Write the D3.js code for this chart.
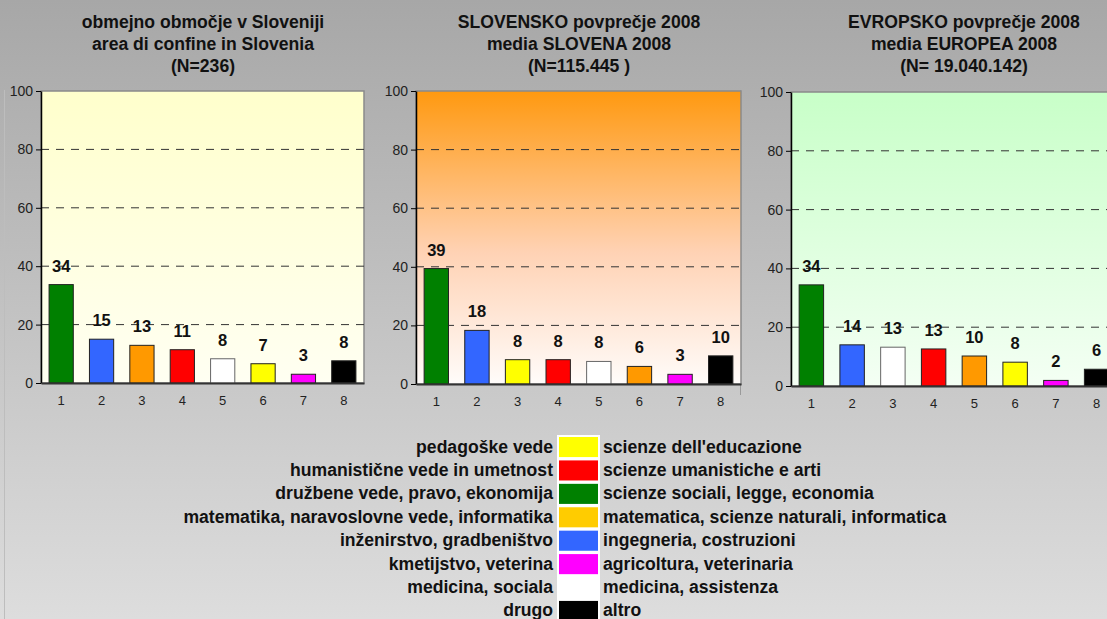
<!DOCTYPE html>
<html><head><meta charset="utf-8">
<script src="https://cdn.jsdelivr.net/npm/d3@7"></script>
<style>
html,body{margin:0;padding:0;background:#d0d0d0;}
svg{display:block;}
text{font-family:"Liberation Sans",Arial,sans-serif;}
</style>
</head><body>
<svg id="chart" width="1107" height="619"></svg>
<script>
// ---------- data ----------
const categories = ["1","2","3","4","5","6","7","8"];
const yTicks = [0,20,40,60,80,100];
const gridTicks = [20,40,60,80];

const titles1 = ["obmejno območje v Sloveniji","area di confine in Slovenia","(N=236)"];
const titles2 = ["SLOVENSKO povprečje 2008","media SLOVENA 2008","(N=115.445 )"];
const titles3 = ["EVROPSKO povprečje 2008","media EUROPEA 2008","(N= 19.040.142)"];

const values1 = [33.7,15.0,12.9,11.4,8.3,6.6,3.0,7.6];
const values2 = [39.4,18.3,8.3,8.3,7.7,6.0,3.3,9.6];
const values3 = [34.4,14.0,13.2,12.6,10.2,8.1,1.9,5.7];

const barColors1 = ["#008000","#3366ff","#ff9900","#ff0000","#ffffff","#ffff00","#ff00ff","#000000"];
const barColors2 = ["#008000","#3366ff","#ffff00","#ff0000","#ffffff","#ff9900","#ff00ff","#000000"];
const barColors3 = ["#008000","#3366ff","#ffffff","#ff0000","#ff9900","#ffff00","#ff00ff","#000000"];

const legendSl = ["pedagoške vede","humanistične vede in umetnost","družbene vede, pravo, ekonomija",
  "matematika, naravoslovne vede, informatika","inženirstvo, gradbeništvo","kmetijstvo, veterina",
  "medicina, sociala","drugo"];
const legendIt = ["scienze dell'educazione","scienze umanistiche e arti","scienze sociali, legge, economia",
  "matematica, scienze naturali, informatica","ingegneria, costruzioni","agricoltura, veterinaria",
  "medicina, assistenza","altro"];
const legendColors = ["#ffff00","#ff0000","#008000","#ffcc00","#3366ff","#ff00ff","#ffffff","#000000"];

// ---------- layout ----------
const W = 1107, H = 619;
const svg = d3.select("#chart");
const defs = svg.append("defs");

function vgrad(id, stops){
  const g = defs.append("linearGradient").attr("id", id).attr("x1",0).attr("y1",0).attr("x2",0).attr("y2",1);
  stops.forEach(s => g.append("stop").attr("offset", s[0]).attr("stop-color", s[1]));
}
vgrad("bg", [[0,"#a7a7a7"],[1,"#dddddd"]]);
vgrad("gYellow", [[0,"#ffffcc"],[1,"#fffff2"]]);
vgrad("gOrange", [[0,"#ff9910"],[0.55,"#ffd2b4"],[1,"#fffcfa"]]);
vgrad("gGreen", [[0,"#c8ffc8"],[1,"#f4fff4"]]);

svg.append("rect").attr("width", W).attr("height", H).attr("fill", "url(#bg)");
// embedding frame edges
svg.append("line").attr("x1",4.5).attr("x2",4.5).attr("y1",90).attr("y2",H).attr("stroke","#bdbdbd");
svg.append("line").attr("x1",740.5).attr("x2",740.5).attr("y1",90).attr("y2",395).attr("stroke","#9a9a9a");

const panels = [
  {x0:41,  x1:364,  yTop:91, yBot:383, tx:203, fill:"url(#gYellow)", titles:titles1, values:values1, colors:barColors1},
  {x0:416, x1:741,  yTop:91, yBot:384, tx:579, fill:"url(#gOrange)", titles:titles2, values:values2, colors:barColors2},
  {x0:791, x1:1117, yTop:92, yBot:386, tx:964, fill:"url(#gGreen)",  titles:titles3, values:values3, colors:barColors3}
];

panels.forEach(p => {
  const g = svg.append("g");
  const x = d3.scaleBand().domain(categories).range([p.x0, p.x1]).paddingInner(0.4).paddingOuter(0.2);
  const y = d3.scaleLinear().domain([0,100]).range([p.yBot, p.yTop]);

  // titles
  g.selectAll("text.title").data(p.titles).join("text")
    .attr("x", p.tx).attr("y", (d,i) => 28 + i*22)
    .attr("text-anchor","middle").attr("font-size", 17.6).attr("font-weight","bold")
    .attr("fill","#111").style("white-space","pre").text(d => d);

  // plot area
  g.append("rect").attr("x", p.x0).attr("y", y(100)).attr("width", p.x1 - p.x0).attr("height", y(0) - y(100))
    .attr("fill", p.fill).attr("stroke","#8a8a8a").attr("stroke-width",1.5);

  // gridlines
  g.selectAll("line.grid").data(gridTicks).join("line")
    .attr("x1", p.x0).attr("x2", p.x1).attr("y1", d => y(d)).attr("y2", d => y(d))
    .attr("stroke","#333").attr("stroke-width",1).attr("stroke-dasharray","8,7");

  // bars
  g.selectAll("rect.bar").data(p.values).join("rect")
    .attr("x", (d,i) => x(categories[i])).attr("width", x.bandwidth())
    .attr("y", d => y(d)).attr("height", d => y(0) - y(d))
    .attr("fill", (d,i) => p.colors[i])
    .attr("stroke", (d,i) => p.colors[i] === "#ffffff" ? "#666" : "#222").attr("stroke-width",1);

  // value labels
  g.selectAll("text.val").data(p.values).join("text")
    .attr("x", (d,i) => x(categories[i]) + x.bandwidth()/2).attr("y", d => y(d) - 13)
    .attr("text-anchor","middle").attr("font-size",16.5).attr("font-weight","bold").attr("fill","#111")
    .text(d => Math.round(d));

  // y axis
  const ya = g.append("g").attr("transform", `translate(${p.x0},0)`)
    .call(d3.axisLeft(y).tickValues(yTicks).tickSize(5).tickPadding(3).tickSizeOuter(0));
  ya.select(".domain").attr("stroke","#000").attr("stroke-width",1.5);
  ya.selectAll(".tick line").attr("stroke","#000");
  ya.selectAll(".tick text").attr("font-size",14).attr("fill","#222").attr("font-family","Liberation Sans, Arial, sans-serif");

  // x axis
  const xa = g.append("g").attr("transform", `translate(0,${p.yBot})`)
    .call(d3.axisBottom(x).tickSize(0).tickPadding(13).tickSizeOuter(0));
  xa.select(".domain").attr("stroke","#333").attr("stroke-width",2);
  xa.selectAll(".tick text").attr("font-size",13).attr("fill","#222").attr("font-family","Liberation Sans, Arial, sans-serif");
});

// ---------- legend ----------
const leg = svg.append("g");
const ly = d3.scaleBand().domain(d3.range(legendSl.length)).range([436, 621]).paddingInner(0.1);
leg.append("rect").attr("x",557).attr("y",435).attr("width",43).attr("height",H-435).attr("fill","#ffffff");
leg.selectAll("rect.sw").data(legendColors).join("rect")
  .attr("x",559).attr("width",39).attr("y",(d,i)=>ly(i)+1).attr("height",ly.bandwidth()-1).attr("fill",d=>d);
leg.selectAll("text.sl").data(legendSl).join("text")
  .attr("x",553).attr("y",(d,i)=>ly(i)+ly.bandwidth()/2+6).attr("text-anchor","end")
  .attr("font-size",17.6).attr("font-weight","bold").attr("fill","#111").text(d=>d);
leg.selectAll("text.it").data(legendIt).join("text")
  .attr("x",603).attr("y",(d,i)=>ly(i)+ly.bandwidth()/2+6).attr("text-anchor","start")
  .attr("font-size",17.6).attr("font-weight","bold").attr("fill","#111").text(d=>d);
</script>
</body></html>
